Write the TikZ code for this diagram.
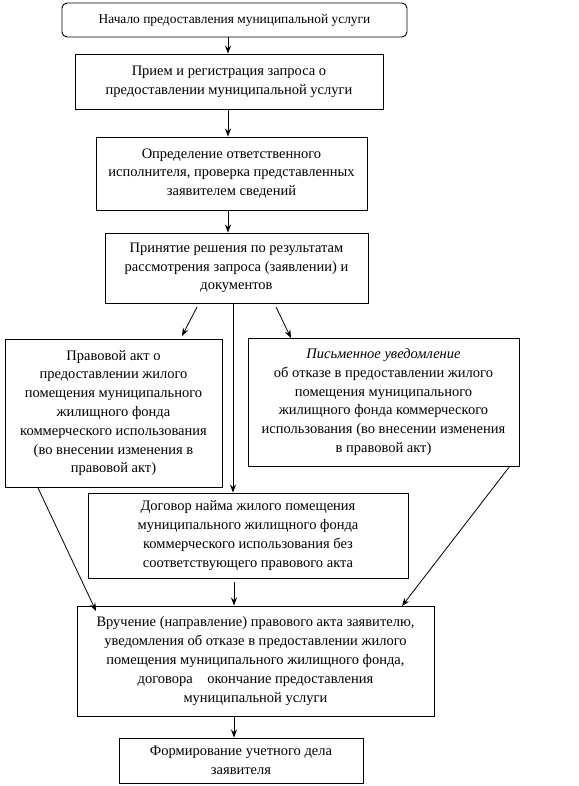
\documentclass[tikz,border=0pt]{standalone}
\usepackage{fontspec}
\setmainfont{Liberation Serif}
\usetikzlibrary{arrows.meta}
\begin{document}
\begin{tikzpicture}[x=1pt,y=-1pt,
  box/.style={draw,line width=0.9pt,align=center,inner sep=0pt,font=\fontsize{14.5}{18.8}\selectfont},
  arr/.style={line width=0.8pt,-{Stealth[length=8pt,width=6pt]}},
  ln/.style={line width=0.8pt}]
\useasboundingbox (0,0) rectangle (578,786);
\node[box,rounded corners=5pt,minimum width=345pt,minimum height=34pt,font=\fontsize{13.4}{17}\selectfont] (b1) at (234.5,20) {Начало предоставления муниципальной услуги};
\node[box,minimum width=308pt,minimum height=55pt] (b2) at (229,81.5) {Прием и регистрация запроса о\\предоставлении муниципальной услуги};
\node[box,minimum width=271pt,minimum height=73pt] (b3) at (231.5,173.5) {Определение ответственного\\исполнителя, проверка представленных\\заявителем сведений};
\node[box,minimum width=263pt,minimum height=70pt] (b4) at (236.5,268) {Принятие решения по результатам\\рассмотрения запроса (заявлении) и\\документов};
\node[box,minimum width=217pt,minimum height=148pt] (bl) at (113.5,413) {Правовой акт о\\предоставлении жилого\\помещения муниципального\\жилищного фонда\\коммерческого использования\\(во внесении изменения в\\правовой акт)};
\node[box,minimum width=271pt,minimum height=128pt] (br) at (383.5,402) {\textit{Письменное уведомление}\\об отказе в предоставлении жилого\\помещения муниципального\\жилищного фонда коммерческого\\использования (во внесении изменения\\в правовой акт)};
\node[box,minimum width=320pt,minimum height=85pt] (bd) at (248,535.5) {Договор найма жилого помещения\\муниципального жилищного фонда\\коммерческого использования без\\соответствующего правового акта};
\node[box,minimum width=357pt,minimum height=110pt] (bv) at (255.5,661) {Вручение (направление) правового акта заявителю,\\уведомления об отказе в предоставлении жилого\\помещения муниципального жилищного фонда,\\договора\quad окончание предоставления\\муниципальной услуги};
\node[box,minimum width=244pt,minimum height=45pt] (bf) at (241,760.5) {Формирование учетного дела\\заявителя};
% vertical arrows
\draw[arr] (b1.south -| 228,0) -- (b2.north -| 228,0);
\draw[arr] (b2.south -| 228,0) -- (b3.north -| 228,0);
\draw[arr] (b3.south -| 228,0) -- (b4.north -| 228,0);
\draw[arr] (b4.south -| 233,0) -- (bd.north -| 233,0);
\coordinate (d1) at (234,582);
\draw[arr] (d1) -- (bv.north -| 234,0);
\draw[arr] (bv.south -| 234,0) -- (bf.north -| 234,0);
% diagonal arrows
\coordinate (l1) at (197,307);
\coordinate (l2) at (182,336);
\draw[arr] (l1) -- (l2);
\coordinate (r1) at (276,307);
\coordinate (r2) at (291,338);
\draw[arr] (r1) -- (r2);
\coordinate (ll1) at (38,488);
\coordinate (ll2) at (96,611);
\draw[arr] (ll1) -- (ll2);
\coordinate (rr1) at (510,466);
\coordinate (rr2) at (402,606);
\draw[arr] (rr1) -- (rr2);
\end{tikzpicture}
\end{document}
